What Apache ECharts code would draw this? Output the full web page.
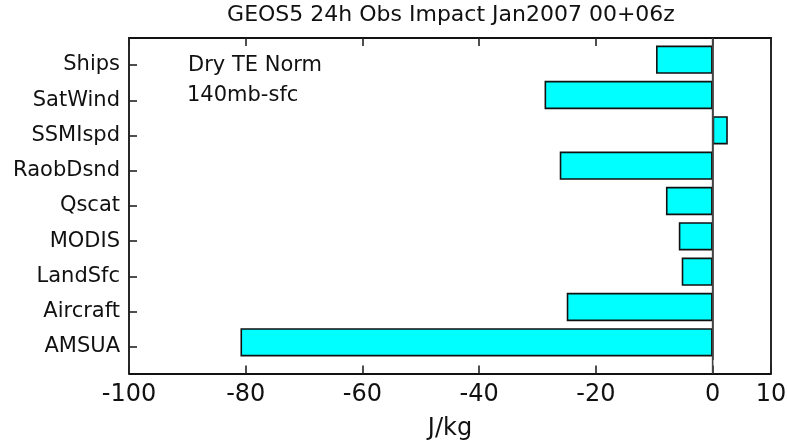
<!DOCTYPE html>
<html>
<head>
<meta charset="utf-8">
<script src="https://cdn.jsdelivr.net/npm/echarts@6/dist/echarts.min.js"></script>
<style>html,body{margin:0;padding:0;background:#fff}#c{width:788px;height:441px}</style>
</head>
<body>
<div id="c"></div>
<script>
const categories = ['Ships','SatWind','SSMIspd','RaobDsnd','Qscat','MODIS','LandSfc','Aircraft','AMSUA'];
const impactValues = [-9.7, -28.8, 2.6, -26.2, -8.0, -5.8, -5.3, -25.0, -80.9];
const xTickLabels = [-100, -80, -60, -40, -20, 0, 10];
const zeroLine = [[0, 0], [0, 1]];
const xMin = -100, xMax = 10;

const FONT = 'DejaVu Sans';
const chart = echarts.init(document.getElementById('c'), null, {renderer: 'canvas'});

const L = 129, R = 788 - 771;
const frameTick = {show: true, inside: true, length: 8, lineStyle: {color: '#222', width: 1.6}};
chart.setOption({
  animation: false,
  backgroundColor: '#fff',
  graphic: [
    {type: 'text', x: 451, y: 15, style: {text: 'GEOS5 24h Obs Impact Jan2007 00+06z', font: '22px "DejaVu Sans"', fill: '#111', align: 'center', verticalAlign: 'middle'}},
    {type: 'text', x: 188, y: 66, style: {text: 'Dry TE Norm', font: '21px "DejaVu Sans"', fill: '#111', verticalAlign: 'middle'}},
    {type: 'text', x: 187, y: 96, style: {text: '140mb-sfc', font: '21px "DejaVu Sans"', fill: '#111', verticalAlign: 'middle'}}
  ],
  grid: [
    {left: L, right: R, top: 38, bottom: 67.5, containLabel: false, outerBoundsMode: 'none'},
    {left: L, right: R, top: 42, bottom: 81, containLabel: false, outerBoundsMode: 'none'},
    {left: L, right: R, top: 47.4, bottom: 76.4, containLabel: false, outerBoundsMode: 'none'}
  ],
  xAxis: [
    {type: 'value', gridIndex: 0, min: xMin, max: xMax, interval: 20, position: 'bottom',
     name: 'J/kg', nameLocation: 'middle', nameGap: 43,
     nameTextStyle: {fontFamily: FONT, fontSize: 24, color: '#111'},
     axisLine: {show: true, onZero: false, lineStyle: {color: '#111', width: 1.8}}, splitLine: {show: false},
     axisTick: frameTick,
     axisLabel: {show: true, showMinLabel: true, showMaxLabel: true, margin: 9, fontFamily: FONT, fontSize: 24, color: '#111', customValues: xTickLabels}},
    {type: 'value', gridIndex: 0, min: xMin, max: xMax, interval: 20, position: 'top',
     axisLine: {show: true, onZero: false, lineStyle: {color: '#111', width: 1.8}}, splitLine: {show: false},
     axisTick: frameTick, axisLabel: {show: false}},
    {type: 'value', gridIndex: 1, min: xMin, max: xMax, show: false},
    {type: 'value', gridIndex: 2, min: xMin, max: xMax, show: false}
  ],
  yAxis: [
    {type: 'value', gridIndex: 0, min: 0, max: 1, position: 'left',
     axisLine: {show: true, onZero: false, lineStyle: {color: '#111', width: 1.8}},
     axisTick: {show: false}, axisLabel: {show: false}, splitLine: {show: false}},
    {type: 'value', gridIndex: 0, min: 0, max: 1, position: 'right',
     axisLine: {show: true, onZero: false, lineStyle: {color: '#111', width: 1.8}},
     axisTick: {show: false}, axisLabel: {show: false}, splitLine: {show: false}},
    {type: 'category', gridIndex: 1, data: categories, inverse: true, show: false},
    {type: 'category', gridIndex: 2, data: categories, inverse: true, position: 'left',
     axisLine: {show: false, onZero: false}, splitLine: {show: false},
     axisTick: {show: true, inside: true, length: 8, alignWithLabel: true, lineStyle: {color: '#222', width: 1.6}},
     axisLabel: {margin: 9, fontFamily: FONT, fontSize: 21, color: '#111'}}
  ],
  series: [
    {type: 'line', xAxisIndex: 0, yAxisIndex: 0, data: zeroLine, symbol: 'none', silent: true, clip: false,
     lineStyle: {color: '#444', width: 1.6}, z: 10},
    {type: 'bar', xAxisIndex: 2, yAxisIndex: 2, data: impactValues, barWidth: '80%',
     itemStyle: {color: '#00FFFF', borderColor: '#111', borderWidth: 1.6}, z: 3,
     markLine: {silent: true, symbol: 'none', label: {show: false}, animation: false,
       lineStyle: {color: '#444', width: 1.6, type: 'solid'}, data: [{xAxis: 0}]}}
  ]
});
</script>
</body>
</html>
